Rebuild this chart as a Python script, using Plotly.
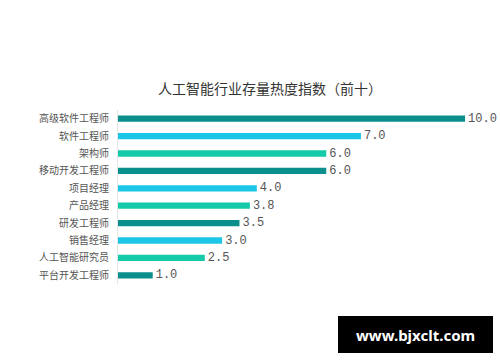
import plotly.graph_objects as go

categories = ["高级软件工程师", "软件工程师", "架构师", "移动开发工程师", "项目经理",
              "产品经理", "研发工程师", "销售经理", "人工智能研究员", "平台开发工程师"]
values = [10.0, 7.0, 6.0, 6.0, 4.0, 3.8, 3.5, 3.0, 2.5, 1.0]
palette = ["#0a8f8c", "#1cc6e6", "#14caa8"]
colors = [palette[i % 3] for i in range(len(categories))]
title_text = "人工智能行业存量热度指数（前十）"
watermark = "www.bjxclt.com"

fig = go.Figure(go.Bar(
    x=values, y=categories, orientation="h",
    marker=dict(color=colors, line=dict(width=0)),
    width=0.36,
    text=[f"{v:.1f}" for v in values], textposition="outside",
    textfont=dict(family="Liberation Mono, monospace", size=12, color="#555555"),
    constraintext="none",
    cliponaxis=False,
))

L, R, T, B = 118, 20, 110, 78
fig.update_layout(
    width=500, height=362,
    margin=dict(l=L, r=R, t=T, b=B),
    paper_bgcolor="white", plot_bgcolor="white",
    showlegend=False,
    font=dict(family="Noto Sans CJK SC", color="#444444"),
    xaxis=dict(range=[0, 10.43], visible=False, showgrid=False, zeroline=False),
    yaxis=dict(categoryorder="array", categoryarray=categories, autorange="reversed",
               showgrid=False, zeroline=False, showline=True, linecolor="#e6e6e6", linewidth=1,
               ticks="", ticklabelstandoff=6,
               tickfont=dict(family="Noto Sans CJK SC", size=10, color="#555555")),
)
pw, ph = 500 - L - R, 362 - T - B
def px(x): return (x - L) / pw
def py(y): return (362 - B - y) / ph

fig.add_annotation(text=title_text, x=px(270), y=py(88), xref="paper", yref="paper",
                   showarrow=False, xanchor="center", yanchor="middle",
                   font=dict(size=14, color="#333333", family="Noto Sans CJK SC"))
fig.add_shape(type="rect", xref="paper", yref="paper", x0=px(338), x1=px(493), y0=py(353), y1=py(316),
              fillcolor="black", line=dict(width=0), layer="below")
fig.add_annotation(text="<b>" + watermark + "</b>", x=px(415), y=py(335), xref="paper", yref="paper",
                   showarrow=False, xanchor="center", yanchor="middle",
                   font=dict(family="Noto Sans", size=15, color="white"))
fig.write_html("out.html", config={"displayModeBar": False},
               post_script="document.body.style.margin='0';")
